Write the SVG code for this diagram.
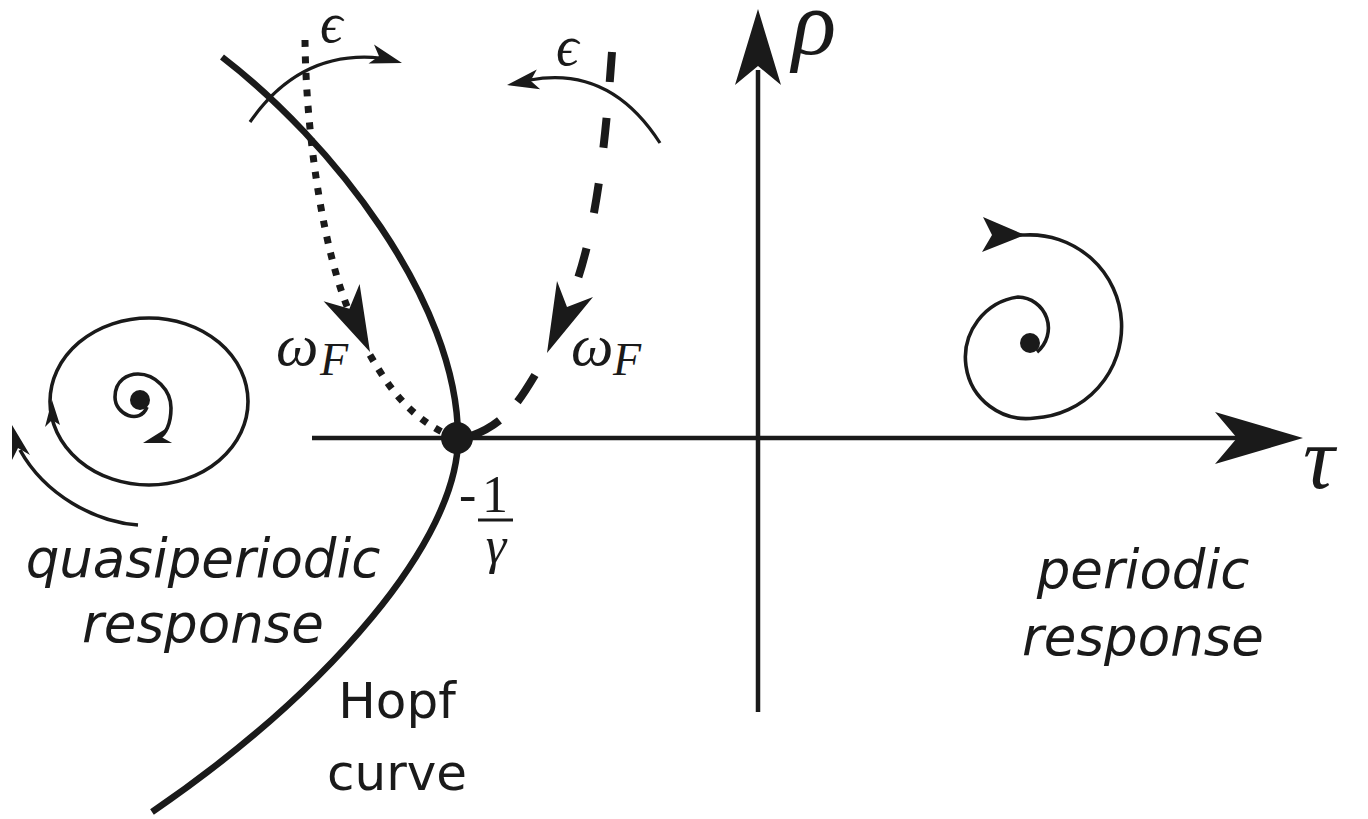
<svg xmlns="http://www.w3.org/2000/svg" width="1368" height="819" viewBox="0 0 1368 819">
<style>
.ln{fill:none;stroke:#1a1a1a;stroke-linecap:butt}
.ax{stroke-width:4.5}
.hopf{stroke-width:6.5}
.thin{stroke-width:3.2}
.sp{stroke-width:3.6}
.dot{stroke-width:7;stroke-dasharray:7 9.5}
.dash{stroke-width:8;stroke-dasharray:30 36}
.ah{fill:#1a1a1a}
.math{font-family:"Liberation Serif","DejaVu Serif",serif;font-style:italic;fill:#1a1a1a}
.rm{font-family:"Liberation Serif","DejaVu Serif",serif;fill:#1a1a1a}
.lbl{font-family:"DejaVu Sans",sans-serif;fill:#1a1a1a;font-size:53px;text-anchor:middle}
.it{font-style:italic}
</style>
<rect width="1368" height="819" fill="#fff"/>
<g id="connectors">
  <!-- axes -->
  <line class="ln ax" x1="312" y1="438" x2="1240" y2="438"/>
  <polygon class="ah" points="1303,438 1215,412 1237,438 1215,464"/>
  <line class="ln ax" x1="758" y1="712" x2="758" y2="70"/>
  <polygon class="ah" points="758,9 735,85 758,66 781,85"/>
  <!-- Hopf curve -->
  <path class="ln hopf" d="M222,57 C330,140 458,300 458,438 C458,540 330,690 152,812"/>
  <!-- dotted path -->
  <path class="ln dot" d="M305,40 C306,140 325,260 352,318"/>
  <path class="ln dot" d="M370,355 C390,390 410,415 442,432"/>
  <polygon class="ah" points="370,352 323.6,301.2 349.4,308.8 359.6,284"/>
  <!-- dashed path -->
  <path class="ln dash" d="M612,52 C605,150 595,240 570,300"/>
  <path class="ln dash" d="M535,375 C520,400 505,425 468,437" style="stroke-dasharray:32 26"/>
  <polygon class="ah" points="547,353 557,281 567,307 593,297"/>
  <!-- epsilon arcs -->
  <path class="ln thin" d="M250,122 Q300,50 380,58"/>
  <polygon class="ah" points="402,63 374,44.4 379,56.3 368.5,63.6"/>
  <path class="ln thin" d="M660,143 Q610,65 530,80"/>
  <polygon class="ah" points="507,85 536.8,69.6 530.6,80.8 540.2,89.2"/>
  <!-- right spiral -->
  <path class="ln sp" d="M992,235 L1025,235 A91.5,91.5 0 0 1 1035,418 A61,61 0 0 1 1018,297 A31,31 0 0 1 1037,352"/>
  <polygon class="ah" points="1025,235 983,217 992,235 982,252"/>
  <!-- left spirals -->
  <ellipse class="ln sp" cx="149" cy="401.5" rx="99" ry="83.5"/>
  <polygon class="ah" points="52,400 45,427 52,420 60,425"/>
  <path class="ln sp" d="M147,407 C140,425 115,415 115,397 C115,380 128,374 138,374 C155,374 171,390 171,408 C171,425 165,434 160,437"/>
  <polygon class="ah" points="143,443 167.7,427.5 162.2,437.4 172.1,442.9"/>
  <path class="ln sp" d="M138,525 C95,522 45,495 20,450"/>
  <polygon class="ah" points="12,425 12,460 18,448 30,455"/>
</g>
<g id="node-hopf-point">
  <circle cx="457" cy="438" r="16" fill="#1a1a1a"/>
</g>
<g id="node-right-focus">
  <circle cx="1030" cy="343" r="10" fill="#1a1a1a"/>
</g>
<g id="node-left-focus">
  <circle cx="140" cy="400" r="10" fill="#1a1a1a"/>
</g>
<g id="labels-math">
  <text class="math" x="320" y="42" font-size="56">ϵ</text>
  <text class="math" x="556" y="65" font-size="56">ϵ</text>
  <text class="math" x="276" y="365" font-size="60">ω</text>
  <text class="math" x="320" y="375" font-size="46">F</text>
  <text class="math" x="571" y="365" font-size="60">ω</text>
  <text class="math" x="613" y="375" font-size="46">F</text>
  <text class="math" x="792" y="54" font-size="92">ρ</text>
  <text class="math" x="1303" y="488" font-size="88">τ</text>
  <text class="rm" x="459" y="512" font-size="52">-</text>
  <text class="rm" x="495" y="512" font-size="52" text-anchor="middle">1</text>
  <line x1="478" y1="520" x2="513" y2="520" stroke="#1a1a1a" stroke-width="3"/>
  <text class="math" x="496" y="563" font-size="52" text-anchor="middle">γ</text>
</g>
<g id="node-quasiperiodic">
  <text class="lbl it" x="203" y="577">quasiperiodic</text>
  <text class="lbl it" x="203" y="642">response</text>
</g>
<g id="node-periodic">
  <text class="lbl it" x="1143" y="588">periodic</text>
  <text class="lbl it" x="1143" y="655">response</text>
</g>
<g id="node-hopf-label">
  <text class="lbl" x="397" y="718" style="font-size:50px">Hopf</text>
  <text class="lbl" x="397" y="790" style="font-size:50px">curve</text>
</g>
</svg>
